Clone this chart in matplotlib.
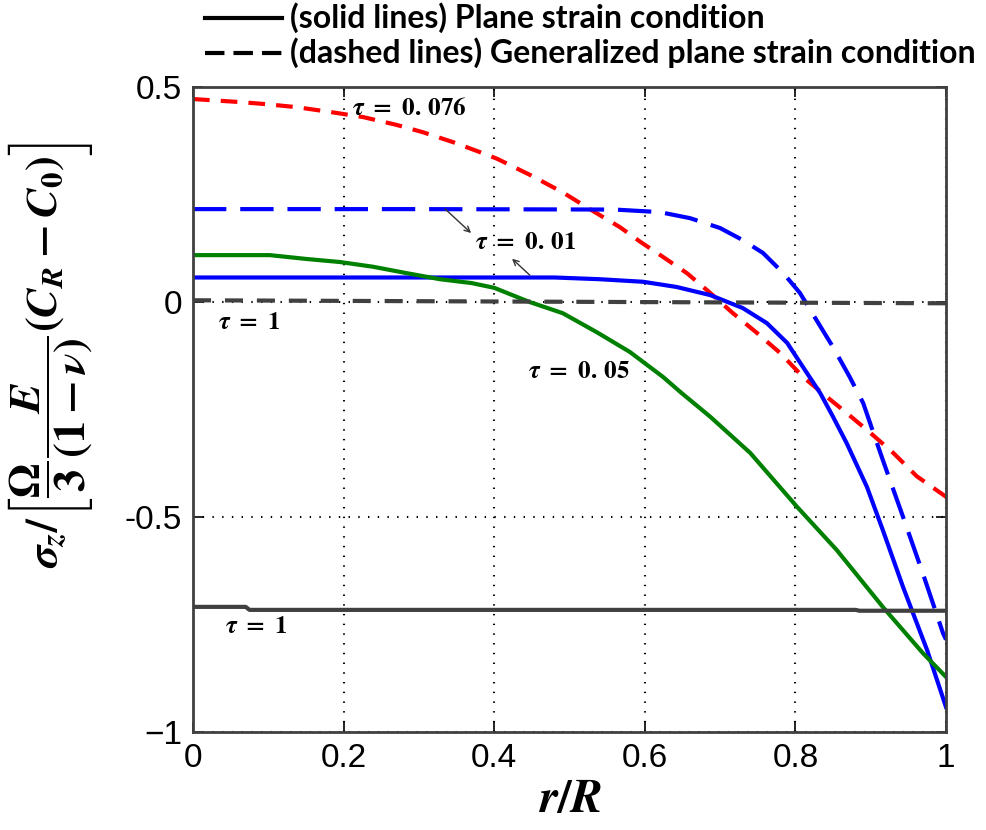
import matplotlib
matplotlib.use("Agg")
import matplotlib.pyplot as plt
from matplotlib.lines import Line2D

# ---- data -------------------------------------------------------------
# tau = 0.076, generalized plane strain (red dashed)
x_red = [0, 0.062, 0.098, 0.138, 0.182, 0.226, 0.27, 0.305, 0.345, 0.385,
         0.404, 0.447, 0.491, 0.527, 0.567, 0.594, 0.624, 0.656, 0.687,
         0.717, 0.749, 0.78, 0.81, 0.842, 0.868, 0.9, 0.93, 0.961, 1.0]
y_red = [0.472, 0.465, 0.46, 0.453, 0.442, 0.43, 0.412, 0.395, 0.372, 0.346,
         0.333, 0.296, 0.255, 0.216, 0.174, 0.14, 0.105, 0.067, 0.021,
         -0.026, -0.072, -0.119, -0.174, -0.221, -0.258, -0.305, -0.351,
         -0.405, -0.453]

# tau = 0.01, generalized plane strain (blue dashed)
x_blue_d = [0, 0.3, 0.56, 0.62, 0.66, 0.70, 0.73, 0.757, 0.784, 0.806,
            0.828, 0.85, 0.872, 0.89, 0.916, 0.943, 0.969, 0.996, 1.0]
y_blue_d = [0.216, 0.216, 0.215, 0.209, 0.195, 0.172, 0.144, 0.114, 0.067,
            0.021, -0.042, -0.105, -0.174, -0.235, -0.367, -0.5, -0.63,
            -0.77, -0.785]

# tau = 0.01, plane strain (blue solid)
x_blue_s = [0, 0.48, 0.54, 0.598, 0.642, 0.687, 0.73, 0.762, 0.789, 0.81,
            0.833, 0.85, 0.868, 0.895, 0.916, 0.943, 0.975, 1.0]
y_blue_s = [0.057, 0.057, 0.053, 0.047, 0.035, 0.016, -0.014, -0.049,
            -0.095, -0.151, -0.212, -0.267, -0.328, -0.43, -0.53, -0.663,
            -0.81, -0.942]

# tau = 0.05, plane strain (green solid)
x_green = [0, 0.102, 0.151, 0.195, 0.239, 0.284, 0.328, 0.37, 0.4, 0.447,
           0.491, 0.536, 0.58, 0.624, 0.647, 0.687, 0.74, 0.802, 0.855,
           0.916, 0.969, 1.0]
y_green = [0.109, 0.109, 0.1, 0.093, 0.082, 0.067, 0.053, 0.044, 0.033, 0.0,
           -0.026, -0.07, -0.116, -0.174, -0.209, -0.267, -0.351, -0.476,
           -0.577, -0.709, -0.816, -0.872]

# tau = 1, plane strain (gray solid) and generalized (gray dashed)
x_gray_s = [0, 0.07, 0.075, 0.88, 0.885, 1.0]
y_gray_s = [-0.709, -0.709, -0.716, -0.716, -0.718, -0.718]
x_gray_d = [0, 1.0]
y_gray_d = [0.004, -0.003]

x_ticks = [0, 0.2, 0.4, 0.6, 0.8, 1]
x_tick_labels = ["0", "0.2", "0.4", "0.6", "0.8", "1"]
y_ticks = [-1, -0.5, 0, 0.5]
y_tick_labels = ["\u22121", "-0.5", "0", "0.5"]

legend_labels = ["(solid lines) Plane strain condition",
                 "(dashed lines) Generalized plane strain condition"]

# ---- style ------------------------------------------------------------
plt.rcParams["lines.scale_dashes"] = False
plt.rcParams["mathtext.fontset"] = "custom"
plt.rcParams["mathtext.rm"] = "STIXGeneral:bold"
plt.rcParams["mathtext.it"] = "STIXGeneral:italic:bold"
plt.rcParams["mathtext.bf"] = "STIXGeneral:bold"

RED = "#ff0000"
BLUE = "#0000ff"
GREEN = "#008000"
GRAY = "#404040"
LW = 3.0

W, H = 987, 830
fig = plt.figure(figsize=(W / 100, H / 100), dpi=100)
ax = fig.add_axes([193 / W, 1 - 732 / H, 753 / W, 645 / H])

ax.plot(x_red, y_red, color=RED, lw=LW, dashes=(12, 8))
ax.plot(x_blue_d, y_blue_d, color=BLUE, lw=LW, dashes=(24, 10))
ax.plot(x_blue_s, y_blue_s, color=BLUE, lw=LW)
ax.plot(x_green, y_green, color=GREEN, lw=LW)
ax.plot(x_gray_s, y_gray_s, color=GRAY, lw=LW)
ax.plot(x_gray_d, y_gray_d, color=GRAY, lw=LW, dashes=(13, 10))

ax.set_xlim(0, 1)
ax.set_ylim(-1, 0.5)
ax.set_xticks(x_ticks)
ax.set_xticklabels(x_tick_labels)
ax.set_yticks(y_ticks)
ax.set_yticklabels(y_tick_labels)
ax.tick_params(direction="in", length=7, width=1.2, top=True, right=True,
               labelsize=24, pad=8, colors="black")
for lab in ax.get_xticklabels() + ax.get_yticklabels():
    lab.set_family("Liberation Sans")
for sp in ax.spines.values():
    sp.set_color(GRAY)
    sp.set_linewidth(2.0)

ax.grid(True, color="black", linestyle=(0, (1, 6)), linewidth=1.5)
ax.set_axisbelow(True)

ax.set_xlabel(r"$r/R$", fontsize=34, labelpad=2)
ax.set_ylabel(r"$\sigma_z/\left[\dfrac{\Omega}{3}\dfrac{E}{(1-\nu)}(C_R-C_0)\right]$",
              fontsize=32)
ax.yaxis.set_label_coords(-0.13, 0.585)

# curve labels
tfs = 18
ax.text(0.211, 0.451, r"$\tau\ =\ 0.\,076$", fontsize=tfs, va="center")
ax.text(0.374, 0.140, r"$\tau\ =\ 0.\,01$", fontsize=tfs, va="center")
ax.text(0.445, -0.161, r"$\tau\ =\ 0.\,05$", fontsize=tfs, va="center")
ax.text(0.033, -0.047, r"$\tau\ =\ 1$", fontsize=tfs, va="center")
ax.text(0.0425, -0.754, r"$\tau\ =\ 1$", fontsize=tfs, va="center")

arrow = dict(arrowstyle="->", color="#333333", lw=1.0)
ax.annotate("", xy=(0.372, 0.156), xytext=(0.332, 0.221), arrowprops=arrow)
ax.annotate("", xy=(0.421, 0.105), xytext=(0.450, 0.058), arrowprops=arrow)

# line-style key above the axes
key_styles = [dict(), dict(dashes=(14, 6.5))]
key_rows = [18, 53]
for style, row, label in zip(key_styles, key_rows, legend_labels):
    fig.add_artist(Line2D([205 / W, 282 / W], [1 - row / H] * 2,
                          transform=fig.transFigure, color="black", lw=3,
                          **style))
    fig.text(290 / W, 1 - row / H, label, family="Lato", weight="bold",
             size=23, va="center", ha="left")

fig.savefig("out.png", dpi=100)
